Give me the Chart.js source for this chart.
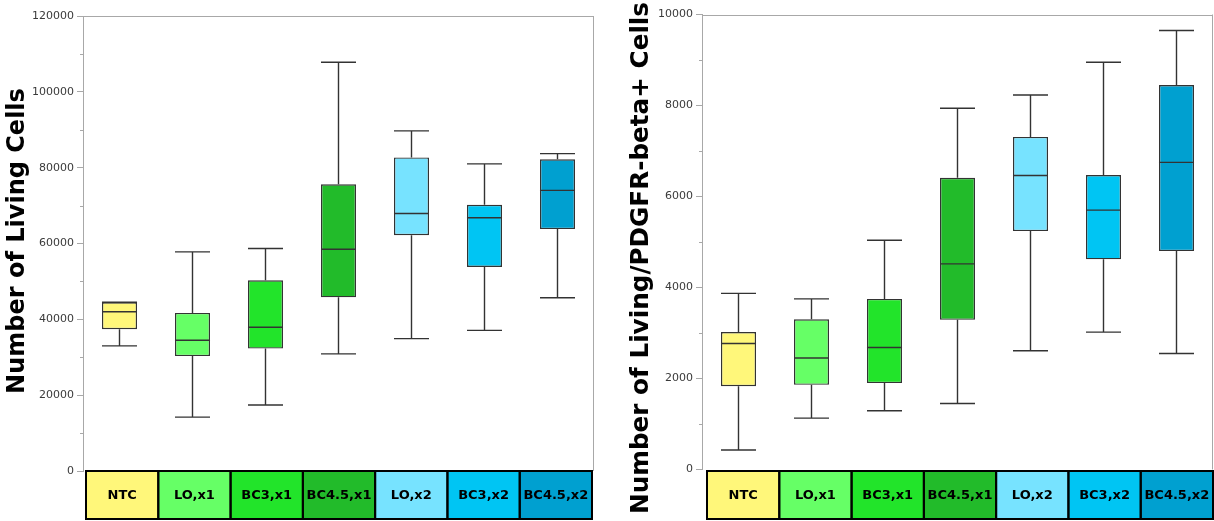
<!DOCTYPE html>
<html>
<head>
<meta charset="utf-8">
<script src="https://cdn.jsdelivr.net/npm/chart.js@4/dist/chart.umd.min.js"></script>
<style>
  html, body { margin: 0; padding: 0; background: #ffffff; }
  #wrap { position: relative; width: 1214px; height: 521px; overflow: hidden; }
  canvas { position: absolute; top: 0; }
  #livingCanvas { left: 0; }
  #pdgfrCanvas { left: 600px; }
</style>
</head>
<body>
<div id="wrap">
  <canvas id="livingCanvas" width="600" height="521"></canvas>
  <canvas id="pdgfrCanvas" width="614" height="521"></canvas>
</div>
<script>
// Treatment groups shown along the bottom of both panels
const categories = ['NTC', 'LO,x1', 'BC3,x1', 'BC4.5,x1', 'LO,x2', 'BC3,x2', 'BC4.5,x2'];

// Number of living cells: five-number summaries per group
const livingMin    = [33000, 14200, 17400,  30900, 34900, 37100, 45700];
const livingQ1     = [37400, 30300, 32300,  45800, 62200, 53800, 63800];
const livingMedian = [42000, 34500, 37900,  58500, 67900, 66800, 74000];
const livingQ3     = [44500, 41700, 50300,  75600, 82700, 70200, 82200];
const livingMax    = [44500, 57800, 58700, 107800, 89700, 81000, 83700];

// Number of living / PDGFR-beta+ cells: five-number summaries per group
const pdgfrMin    = [ 430, 1130, 1290, 1450, 2610, 3020, 2550];
const pdgfrQ1     = [1830, 1860, 1900, 3290, 5240, 4620, 4800];
const pdgfrMedian = [2770, 2450, 2680, 4520, 6460, 5700, 6750];
const pdgfrQ3     = [3020, 3300, 3750, 6410, 7310, 6470, 8450];
const pdgfrMax    = [3870, 3750, 5040, 7940, 8230, 8950, 9650];

// Axis ranges and tick steps
const livingAxis = { max: 120000, major: 20000, minor: 10000 };
const pdgfrAxis  = { max: 10000,  major: 2000,  minor: 1000 };

// Group colours
const groupColors = ['#fff77a', '#66ff66', '#22e42a', '#22bb2a', '#77e3ff', '#00c5f3', '#00a0d0'];

const LINE = '#333333';
const FRAME = '#a8a8a8';

function makeChart(canvasId, cfg) {
  const ctxEl = document.getElementById(canvasId);

  const boxPlugin = {
    id: 'boxExtras',
    afterDatasetsDraw(chart) {
      const ctx = chart.ctx;
      const y = chart.scales.y;
      const meta = chart.getDatasetMeta(0);
      ctx.save();
      ctx.strokeStyle = LINE;
      ctx.lineWidth = 1.4;
      meta.data.forEach((bar, i) => {
        const half = bar.width / 2;
        const x = bar.x;
        const yMin = y.getPixelForValue(cfg.min[i]);
        const yMax = y.getPixelForValue(cfg.max[i]);
        const yQ1 = y.getPixelForValue(cfg.q1[i]);
        const yQ3 = y.getPixelForValue(cfg.q3[i]);
        const yMed = y.getPixelForValue(cfg.median[i]);
        ctx.beginPath();
        // whiskers
        ctx.moveTo(x, yQ3); ctx.lineTo(x, yMax);
        ctx.moveTo(x, yQ1); ctx.lineTo(x, yMin);
        // caps
        ctx.moveTo(x - half, yMax); ctx.lineTo(x + half, yMax);
        ctx.moveTo(x - half, yMin); ctx.lineTo(x + half, yMin);
        ctx.stroke();
        // median
        ctx.beginPath();
        ctx.moveTo(x - half, yMed); ctx.lineTo(x + half, yMed);
        ctx.stroke();
      });
      ctx.restore();
    },
    afterDraw(chart) {
      const ctx = chart.ctx;
      const area = chart.chartArea;
      const y = chart.scales.y;
      const xs = chart.scales.x;
      ctx.save();

      // frame: top and right edges
      ctx.strokeStyle = FRAME;
      ctx.lineWidth = 1;
      ctx.beginPath();
      ctx.moveTo(area.left, Math.round(area.top) + 0.5);
      ctx.lineTo(area.right, Math.round(area.top) + 0.5);
      ctx.moveTo(Math.round(area.right) - 0.5, area.top);
      ctx.lineTo(Math.round(area.right) - 0.5, area.bottom);
      ctx.stroke();

      // minor tick marks between labelled ticks
      ctx.beginPath();
      for (let v = cfg.axis.minor; v < cfg.axis.max; v += cfg.axis.major) {
        const py = Math.round(y.getPixelForValue(v)) + 0.5;
        ctx.moveTo(area.left - 3, py);
        ctx.lineTo(area.left, py);
      }
      ctx.stroke();

      // category strip below the plot
      const n = categories.length;
      const stripLeft = xs.getPixelForValue(0) - (xs.getPixelForValue(1) - xs.getPixelForValue(0)) / 2 + cfg.stripInsetL;
      const stripRight = xs.getPixelForValue(n - 1) + (xs.getPixelForValue(1) - xs.getPixelForValue(0)) / 2 - cfg.stripInsetR;
      const cellW = (stripRight - stripLeft) / n;
      const top = cfg.stripTop, h = 48;
      for (let i = 0; i < n; i++) {
        const cx = stripLeft + i * cellW;
        ctx.fillStyle = groupColors[i];
        ctx.fillRect(cx, top, cellW, h);
      }
      ctx.strokeStyle = '#000000';
      ctx.lineWidth = 2;
      for (let i = 0; i < n; i++) {
        const cx = stripLeft + i * cellW;
        ctx.strokeRect(cx, top, cellW, h);
      }
      ctx.fillStyle = '#000000';
      ctx.font = 'bold 13px "DejaVu Sans"';
      ctx.textAlign = 'center';
      ctx.textBaseline = 'middle';
      for (let i = 0; i < n; i++) {
        const cx = stripLeft + (i + 0.5) * cellW;
        ctx.fillText(categories[i], cx, top + h / 2 + 1);
      }

      // y-axis title
      ctx.save();
      ctx.translate(cfg.titleX, cfg.titleY);
      ctx.rotate(-Math.PI / 2);
      ctx.font = 'bold ' + cfg.titleSize + 'px "DejaVu Sans"';
      ctx.fillStyle = '#000000';
      ctx.textAlign = 'center';
      ctx.textBaseline = 'middle';
      ctx.fillText(cfg.title, 0, 0);
      ctx.restore();

      ctx.restore();
    }
  };

  return new Chart(ctxEl, {
    type: 'bar',
    data: {
      labels: categories,
      datasets: [{
        data: cfg.q1.map((v, i) => [v, cfg.q3[i]]),
        backgroundColor: groupColors,
        borderColor: LINE,
        borderWidth: 1.4,
        borderSkipped: false,
        barPercentage: 0.48,
        categoryPercentage: 1
      }]
    },
    options: {
      responsive: false,
      animation: false,
      devicePixelRatio: 1,
      layout: { padding: cfg.padding },
      plugins: { legend: { display: false }, tooltip: { enabled: false } },
      scales: {
        x: { display: false },
        y: {
          min: 0,
          max: cfg.axis.max,
          afterFit(scale) { scale.width = cfg.axisWidth; },
          ticks: {
            stepSize: cfg.axis.major,
            color: '#3a3a3a',
            font: { family: 'DejaVu Sans', size: 11 },
            padding: 3,
            callback: (v) => String(v)
          },
          grid: { drawOnChartArea: false, tickLength: 6, color: FRAME },
          border: { color: FRAME }
        }
      }
    },
    plugins: [boxPlugin]
  });
}

makeChart('livingCanvas', {
  min: livingMin, q1: livingQ1, median: livingMedian, q3: livingQ3, max: livingMax,
  axis: livingAxis,
  axisWidth: 83,
  padding: { top: 16, right: 6, bottom: 50, left: 0 },
  stripTop: 471, stripInsetL: 3, stripInsetR: 2,
  title: 'Number of Living Cells', titleX: 18, titleY: 241, titleSize: 24
});

makeChart('pdgfrCanvas', {
  min: pdgfrMin, q1: pdgfrQ1, median: pdgfrMedian, q3: pdgfrQ3, max: pdgfrMax,
  axis: pdgfrAxis,
  axisWidth: 102,
  padding: { top: 14.5, right: 1, bottom: 51.5, left: 0 },
  stripTop: 471, stripInsetL: 5, stripInsetR: 0,
  title: 'Number of Living/PDGFR-beta+ Cells', titleX: 42, titleY: 258, titleSize: 24.7
});
</script>
</body>
</html>
